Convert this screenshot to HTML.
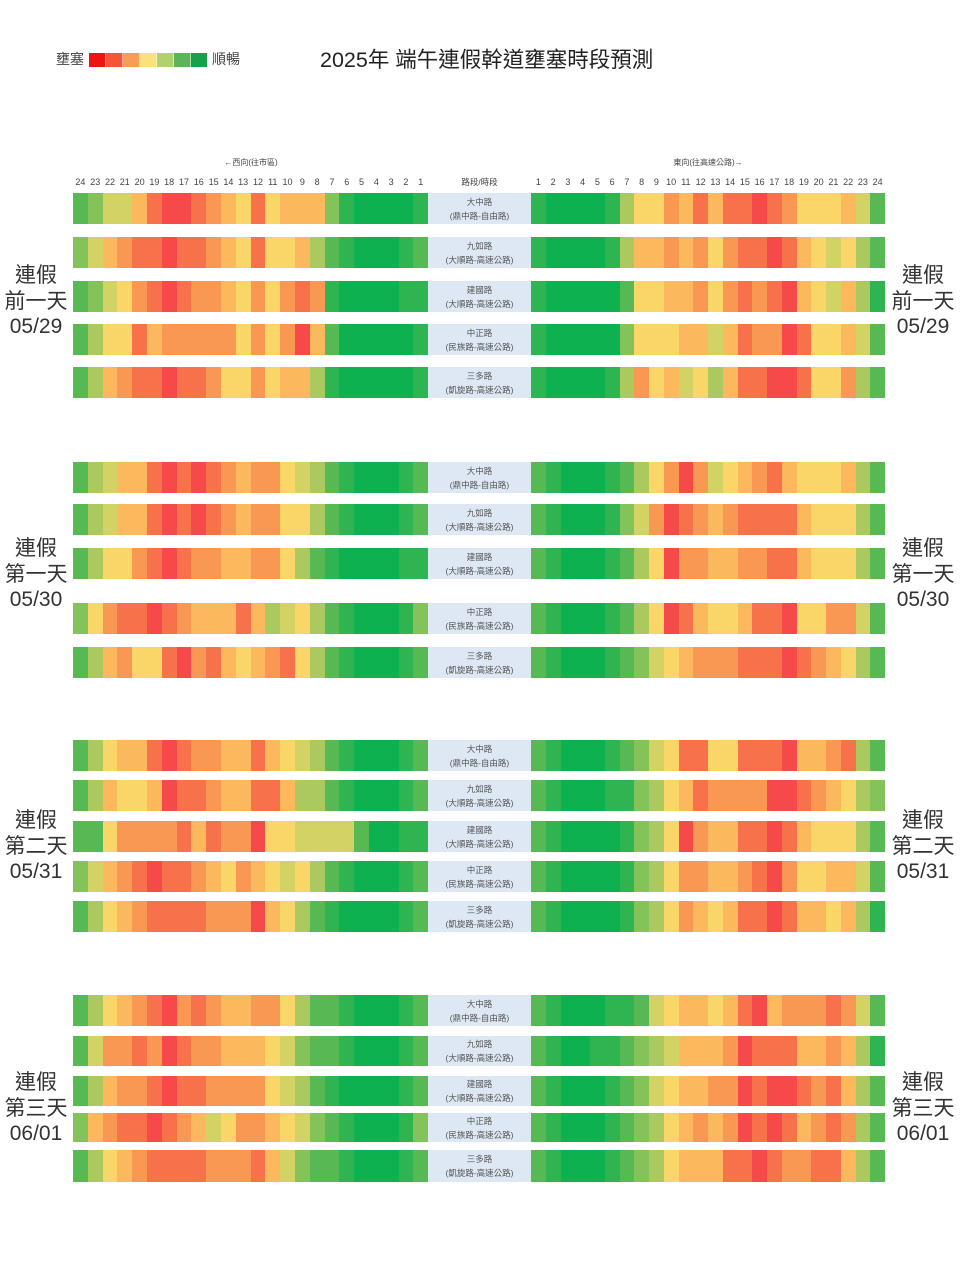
<!DOCTYPE html>
<html><head><meta charset="utf-8">
<style>
html,body{margin:0;padding:0}
body{width:960px;height:1280px;background:#fff;position:relative;overflow:hidden;font-family:"Liberation Sans","Noto Sans CJK TC",sans-serif;color:#333}
.a{position:absolute}
.r{position:absolute;display:flex;height:31px}
.L{left:73px;width:355px}
.R{left:531px;width:354px}
.r>*{flex:1 1 0;display:block}
c0{background:#0db14f}c1{background:#2fb452}c2{background:#57b954}c3{background:#84c25a}c4{background:#acc95f}c5{background:#d3d264}c6{background:#fad668}c7{background:#fbb85c}c8{background:#f99852}c9{background:#f7724b}ca{background:#f5494a}
.m{position:absolute;left:428px;width:103px;height:31px;background:#dde8f4;display:flex;flex-direction:column;justify-content:center;align-items:center;font-size:8.5px;line-height:14px;color:#555}
.h{position:absolute;top:176px;height:12px;display:flex;font-size:9px;line-height:12px;color:#444}
.h span{flex:1 1 0;text-align:center}
.side{position:absolute;width:72px;text-align:center;font-size:21px;line-height:25.5px;color:#333}
.leg{position:absolute;top:53px;height:14px;display:flex;left:89px;width:118px}
.leg span{flex:1 1 0;border-right:1px solid rgba(255,255,255,.5)}
</style></head><body>

<div class="a" style="left:56px;top:50px;font-size:14px;line-height:18px;color:#444">壅塞</div>
<div class="leg"><span style="background:#ef1414"></span><span style="background:#f4553b"></span><span style="background:#f89d56"></span><span style="background:#fbe07e"></span><span style="background:#b2d16c"></span><span style="background:#5db55a"></span><span style="background:#17a14d;border-right:0"></span></div>
<div class="a" style="left:212px;top:50px;font-size:14px;line-height:18px;color:#444">順暢</div>
<div class="a" style="left:320px;top:48px;font-size:21.5px;line-height:25px;color:#222;white-space:nowrap">2025年 端午連假幹道壅塞時段預測</div>

<div class="a" style="left:200px;top:157px;width:102px;text-align:center;font-size:8px;line-height:12px;color:#444">←西向(往市區)</div>
<div class="a" style="left:650px;top:157px;width:116px;text-align:center;font-size:8px;line-height:12px;color:#444">東向(往高速公路)→</div>

<div class="h L"><span>24</span><span>23</span><span>22</span><span>21</span><span>20</span><span>19</span><span>18</span><span>17</span><span>16</span><span>15</span><span>14</span><span>13</span><span>12</span><span>11</span><span>10</span><span>9</span><span>8</span><span>7</span><span>6</span><span>5</span><span>4</span><span>3</span><span>2</span><span>1</span></div>
<div class="a" style="left:428px;top:176px;width:103px;text-align:center;font-size:8.5px;line-height:12px;color:#444">路段/時段</div>
<div class="h R"><span>1</span><span>2</span><span>3</span><span>4</span><span>5</span><span>6</span><span>7</span><span>8</span><span>9</span><span>10</span><span>11</span><span>12</span><span>13</span><span>14</span><span>15</span><span>16</span><span>17</span><span>18</span><span>19</span><span>20</span><span>21</span><span>22</span><span>23</span><span>24</span></div>

<!-- side labels -->
<div class="side" style="left:0;top:263px">連假<br>前一天<br>05/29</div>
<div class="side" style="left:887px;top:263px">連假<br>前一天<br>05/29</div>
<div class="side" style="left:0;top:536px">連假<br>第一天<br>05/30</div>
<div class="side" style="left:887px;top:536px">連假<br>第一天<br>05/30</div>
<div class="side" style="left:0;top:808px">連假<br>第二天<br>05/31</div>
<div class="side" style="left:887px;top:808px">連假<br>第二天<br>05/31</div>
<div class="side" style="left:0;top:1070px">連假<br>第三天<br>06/01</div>
<div class="side" style="left:887px;top:1070px">連假<br>第三天<br>06/01</div>

<!-- GROUP 1 -->
<div class="r L" style="top:193px"><c2></c2><c3></c3><c5></c5><c5></c5><c7></c7><c9></c9><ca></ca><ca></ca><c9></c9><c8></c8><c7></c7><c6></c6><c9></c9><c6></c6><c7></c7><c7></c7><c7></c7><c3></c3><c1></c1><c0></c0><c0></c0><c0></c0><c0></c0><c1></c1></div>
<div class="m" style="top:193px"><div>大中路</div><div>(鼎中路-自由路)</div></div>
<div class="r R" style="top:193px"><c1></c1><c0></c0><c0></c0><c0></c0><c0></c0><c1></c1><c4></c4><c6></c6><c6></c6><c8></c8><c7></c7><c9></c9><c7></c7><c9></c9><c9></c9><ca></ca><c9></c9><c8></c8><c6></c6><c6></c6><c6></c6><c7></c7><c5></c5><c2></c2></div>

<div class="r L" style="top:237px"><c3></c3><c5></c5><c7></c7><c8></c8><c9></c9><c9></c9><ca></ca><c9></c9><c9></c9><c8></c8><c7></c7><c6></c6><c9></c9><c6></c6><c6></c6><c7></c7><c4></c4><c2></c2><c1></c1><c0></c0><c0></c0><c0></c0><c1></c1><c2></c2></div>
<div class="m" style="top:237px"><div>九如路</div><div>(大順路-高速公路)</div></div>
<div class="r R" style="top:237px"><c1></c1><c0></c0><c0></c0><c0></c0><c0></c0><c1></c1><c4></c4><c7></c7><c7></c7><c8></c8><c7></c7><c8></c8><c6></c6><c8></c8><c9></c9><c9></c9><ca></ca><c9></c9><c7></c7><c6></c6><c5></c5><c6></c6><c4></c4><c2></c2></div>

<div class="r L" style="top:281px"><c2></c2><c3></c3><c5></c5><c6></c6><c8></c8><c9></c9><ca></ca><c9></c9><c8></c8><c8></c8><c7></c7><c6></c6><c8></c8><c6></c6><c8></c8><c9></c9><c8></c8><c1></c1><c0></c0><c0></c0><c0></c0><c0></c0><c1></c1><c1></c1></div>
<div class="m" style="top:281px"><div>建國路</div><div>(大順路-高速公路)</div></div>
<div class="r R" style="top:281px"><c1></c1><c0></c0><c0></c0><c0></c0><c0></c0><c0></c0><c2></c2><c6></c6><c6></c6><c7></c7><c7></c7><c8></c8><c6></c6><c8></c8><c9></c9><c8></c8><c9></c9><ca></ca><c7></c7><c6></c6><c5></c5><c7></c7><c4></c4><c1></c1></div>

<div class="r L" style="top:324px"><c2></c2><c4></c4><c6></c6><c6></c6><c9></c9><c7></c7><c8></c8><c8></c8><c8></c8><c8></c8><c8></c8><c6></c6><c8></c8><c6></c6><c8></c8><ca></ca><c7></c7><c2></c2><c0></c0><c0></c0><c0></c0><c0></c0><c0></c0><c1></c1></div>
<div class="m" style="top:324px"><div>中正路</div><div>(民族路-高速公路)</div></div>
<div class="r R" style="top:324px"><c1></c1><c0></c0><c0></c0><c0></c0><c0></c0><c0></c0><c3></c3><c6></c6><c6></c6><c6></c6><c7></c7><c7></c7><c5></c5><c7></c7><c9></c9><c8></c8><c8></c8><ca></ca><c9></c9><c6></c6><c6></c6><c7></c7><c5></c5><c2></c2></div>

<div class="r L" style="top:367px"><c2></c2><c4></c4><c7></c7><c8></c8><c9></c9><c9></c9><ca></ca><c9></c9><c9></c9><c8></c8><c6></c6><c6></c6><c8></c8><c6></c6><c7></c7><c7></c7><c4></c4><c1></c1><c0></c0><c0></c0><c0></c0><c0></c0><c0></c0><c1></c1></div>
<div class="m" style="top:367px"><div>三多路</div><div>(凱旋路-高速公路)</div></div>
<div class="r R" style="top:367px"><c1></c1><c0></c0><c0></c0><c0></c0><c0></c0><c1></c1><c4></c4><c8></c8><c6></c6><c7></c7><c5></c5><c6></c6><c4></c4><c7></c7><c9></c9><c9></c9><ca></ca><ca></ca><c9></c9><c6></c6><c6></c6><c8></c8><c4></c4><c2></c2></div>

<!-- GROUP 2 -->
<div class="r L" style="top:462px"><c2></c2><c4></c4><c5></c5><c7></c7><c7></c7><c9></c9><ca></ca><c9></c9><ca></ca><c9></c9><c8></c8><c7></c7><c8></c8><c8></c8><c6></c6><c5></c5><c4></c4><c2></c2><c1></c1><c0></c0><c0></c0><c0></c0><c1></c1><c2></c2></div>
<div class="m" style="top:462px"><div>大中路</div><div>(鼎中路-自由路)</div></div>
<div class="r R" style="top:462px"><c2></c2><c1></c1><c0></c0><c0></c0><c0></c0><c1></c1><c2></c2><c4></c4><c6></c6><c8></c8><ca></ca><c8></c8><c5></c5><c6></c6><c7></c7><c8></c8><c9></c9><c7></c7><c6></c6><c6></c6><c6></c6><c7></c7><c4></c4><c2></c2></div>

<div class="r L" style="top:504px"><c2></c2><c4></c4><c5></c5><c7></c7><c7></c7><c9></c9><ca></ca><c9></c9><ca></ca><c9></c9><c8></c8><c7></c7><c8></c8><c8></c8><c6></c6><c6></c6><c4></c4><c2></c2><c1></c1><c0></c0><c0></c0><c0></c0><c1></c1><c2></c2></div>
<div class="m" style="top:504px"><div>九如路</div><div>(大順路-高速公路)</div></div>
<div class="r R" style="top:504px"><c2></c2><c1></c1><c0></c0><c0></c0><c0></c0><c1></c1><c3></c3><c5></c5><c8></c8><ca></ca><c9></c9><c8></c8><c7></c7><c8></c8><c9></c9><c9></c9><c9></c9><c9></c9><c7></c7><c6></c6><c6></c6><c6></c6><c4></c4><c2></c2></div>

<div class="r L" style="top:548px"><c2></c2><c4></c4><c6></c6><c6></c6><c8></c8><c9></c9><ca></ca><c9></c9><c8></c8><c8></c8><c7></c7><c7></c7><c8></c8><c8></c8><c6></c6><c4></c4><c2></c2><c1></c1><c0></c0><c0></c0><c0></c0><c0></c0><c1></c1><c1></c1></div>
<div class="m" style="top:548px"><div>建國路</div><div>(大順路-高速公路)</div></div>
<div class="r R" style="top:548px"><c2></c2><c1></c1><c0></c0><c0></c0><c0></c0><c1></c1><c2></c2><c4></c4><c6></c6><ca></ca><c8></c8><c8></c8><c7></c7><c7></c7><c8></c8><c8></c8><c9></c9><c9></c9><c7></c7><c6></c6><c6></c6><c6></c6><c4></c4><c2></c2></div>

<div class="r L" style="top:603px"><c3></c3><c6></c6><c8></c8><c9></c9><c9></c9><ca></ca><c9></c9><c8></c8><c7></c7><c7></c7><c7></c7><c9></c9><c7></c7><c4></c4><c5></c5><c6></c6><c4></c4><c2></c2><c1></c1><c0></c0><c0></c0><c0></c0><c1></c1><c3></c3></div>
<div class="m" style="top:603px"><div>中正路</div><div>(民族路-高速公路)</div></div>
<div class="r R" style="top:603px"><c2></c2><c1></c1><c0></c0><c0></c0><c0></c0><c1></c1><c2></c2><c4></c4><c6></c6><ca></ca><c9></c9><c7></c7><c6></c6><c6></c6><c7></c7><c9></c9><c9></c9><ca></ca><c6></c6><c6></c6><c8></c8><c8></c8><c5></c5><c2></c2></div>

<div class="r L" style="top:647px"><c2></c2><c4></c4><c7></c7><c8></c8><c6></c6><c6></c6><c9></c9><ca></ca><c8></c8><c9></c9><c7></c7><c6></c6><c7></c7><c8></c8><c9></c9><c6></c6><c4></c4><c2></c2><c1></c1><c0></c0><c0></c0><c0></c0><c1></c1><c2></c2></div>
<div class="m" style="top:647px"><div>三多路</div><div>(凱旋路-高速公路)</div></div>
<div class="r R" style="top:647px"><c2></c2><c1></c1><c0></c0><c0></c0><c0></c0><c1></c1><c2></c2><c3></c3><c5></c5><c6></c6><c7></c7><c8></c8><c8></c8><c8></c8><c9></c9><c9></c9><c9></c9><ca></ca><c9></c9><c8></c8><c7></c7><c6></c6><c4></c4><c2></c2></div>

<!-- GROUP 3 -->
<div class="r L" style="top:740px"><c2></c2><c4></c4><c6></c6><c7></c7><c7></c7><c9></c9><ca></ca><c9></c9><c8></c8><c8></c8><c7></c7><c7></c7><c9></c9><c7></c7><c6></c6><c5></c5><c4></c4><c2></c2><c1></c1><c0></c0><c0></c0><c0></c0><c1></c1><c2></c2></div>
<div class="m" style="top:740px"><div>大中路</div><div>(鼎中路-自由路)</div></div>
<div class="r R" style="top:740px"><c2></c2><c1></c1><c0></c0><c0></c0><c0></c0><c1></c1><c2></c2><c3></c3><c5></c5><c6></c6><c9></c9><c9></c9><c6></c6><c6></c6><c9></c9><c9></c9><c9></c9><ca></ca><c7></c7><c7></c7><c8></c8><c9></c9><c4></c4><c2></c2></div>

<div class="r L" style="top:780px"><c2></c2><c4></c4><c7></c7><c6></c6><c6></c6><c7></c7><ca></ca><c9></c9><c9></c9><c8></c8><c7></c7><c7></c7><c9></c9><c9></c9><c7></c7><c4></c4><c4></c4><c2></c2><c1></c1><c0></c0><c0></c0><c0></c0><c1></c1><c2></c2></div>
<div class="m" style="top:780px"><div>九如路</div><div>(大順路-高速公路)</div></div>
<div class="r R" style="top:780px"><c2></c2><c1></c1><c0></c0><c0></c0><c0></c0><c1></c1><c1></c1><c3></c3><c4></c4><c6></c6><c7></c7><c9></c9><c8></c8><c8></c8><c8></c8><c8></c8><ca></ca><ca></ca><c9></c9><c8></c8><c7></c7><c6></c6><c4></c4><c3></c3></div>

<div class="r L" style="top:821px"><c2></c2><c2></c2><c6></c6><c8></c8><c8></c8><c8></c8><c8></c8><c9></c9><c7></c7><c9></c9><c8></c8><c8></c8><ca></ca><c6></c6><c6></c6><c5></c5><c5></c5><c5></c5><c5></c5><c2></c2><c0></c0><c0></c0><c1></c1><c1></c1></div>
<div class="m" style="top:821px"><div>建國路</div><div>(大順路-高速公路)</div></div>
<div class="r R" style="top:821px"><c2></c2><c1></c1><c0></c0><c0></c0><c0></c0><c0></c0><c1></c1><c3></c3><c4></c4><c6></c6><ca></ca><c8></c8><c7></c7><c7></c7><c9></c9><c9></c9><ca></ca><c9></c9><c7></c7><c6></c6><c6></c6><c6></c6><c4></c4><c2></c2></div>

<div class="r L" style="top:861px"><c3></c3><c5></c5><c7></c7><c8></c8><c9></c9><ca></ca><c9></c9><c9></c9><c8></c8><c7></c7><c6></c6><c8></c8><c7></c7><c6></c6><c5></c5><c6></c6><c4></c4><c2></c2><c1></c1><c0></c0><c0></c0><c0></c0><c1></c1><c2></c2></div>
<div class="m" style="top:861px"><div>中正路</div><div>(民族路-高速公路)</div></div>
<div class="r R" style="top:861px"><c2></c2><c1></c1><c0></c0><c0></c0><c0></c0><c0></c0><c1></c1><c3></c3><c4></c4><c6></c6><c8></c8><c8></c8><c7></c7><c7></c7><c8></c8><c9></c9><ca></ca><c8></c8><c6></c6><c6></c6><c7></c7><c7></c7><c5></c5><c2></c2></div>

<div class="r L" style="top:901px"><c2></c2><c4></c4><c6></c6><c7></c7><c8></c8><c9></c9><c9></c9><c9></c9><c9></c9><c8></c8><c8></c8><c8></c8><ca></ca><c7></c7><c6></c6><c4></c4><c2></c2><c1></c1><c0></c0><c0></c0><c0></c0><c0></c0><c1></c1><c2></c2></div>
<div class="m" style="top:901px"><div>三多路</div><div>(凱旋路-高速公路)</div></div>
<div class="r R" style="top:901px"><c2></c2><c1></c1><c0></c0><c0></c0><c0></c0><c0></c0><c1></c1><c3></c3><c4></c4><c6></c6><c8></c8><c7></c7><c6></c6><c7></c7><c9></c9><c9></c9><ca></ca><c9></c9><c7></c7><c7></c7><c6></c6><c7></c7><c4></c4><c1></c1></div>

<!-- GROUP 4 -->
<div class="r L" style="top:995px"><c2></c2><c4></c4><c6></c6><c7></c7><c8></c8><c9></c9><ca></ca><c8></c8><c9></c9><c8></c8><c7></c7><c7></c7><c8></c8><c8></c8><c6></c6><c4></c4><c2></c2><c2></c2><c1></c1><c0></c0><c0></c0><c0></c0><c1></c1><c2></c2></div>
<div class="m" style="top:995px"><div>大中路</div><div>(鼎中路-自由路)</div></div>
<div class="r R" style="top:995px"><c2></c2><c1></c1><c0></c0><c0></c0><c0></c0><c1></c1><c1></c1><c2></c2><c5></c5><c6></c6><c7></c7><c7></c7><c6></c6><c7></c7><c9></c9><ca></ca><c7></c7><c8></c8><c8></c8><c8></c8><c9></c9><c8></c8><c5></c5><c2></c2></div>

<div class="r L" style="top:1036px;height:30px"><c2></c2><c5></c5><c8></c8><c8></c8><c9></c9><c8></c8><ca></ca><c9></c9><c8></c8><c8></c8><c7></c7><c7></c7><c7></c7><c6></c6><c5></c5><c3></c3><c2></c2><c2></c2><c1></c1><c0></c0><c0></c0><c0></c0><c1></c1><c2></c2></div>
<div class="m" style="top:1036px;height:30px"><div>九如路</div><div>(大順路-高速公路)</div></div>
<div class="r R" style="top:1036px;height:30px"><c2></c2><c1></c1><c0></c0><c0></c0><c1></c1><c1></c1><c2></c2><c3></c3><c4></c4><c5></c5><c7></c7><c7></c7><c7></c7><c8></c8><ca></ca><c9></c9><c9></c9><c9></c9><c7></c7><c7></c7><c8></c8><c7></c7><c4></c4><c1></c1></div>

<div class="r L" style="top:1076px;height:30px"><c2></c2><c4></c4><c7></c7><c8></c8><c8></c8><c9></c9><ca></ca><c9></c9><c9></c9><c8></c8><c8></c8><c8></c8><c8></c8><c6></c6><c5></c5><c4></c4><c2></c2><c1></c1><c0></c0><c0></c0><c0></c0><c0></c0><c1></c1><c2></c2></div>
<div class="m" style="top:1076px;height:30px"><div>建國路</div><div>(大順路-高速公路)</div></div>
<div class="r R" style="top:1076px;height:30px"><c2></c2><c1></c1><c0></c0><c0></c0><c0></c0><c1></c1><c2></c2><c3></c3><c5></c5><c6></c6><c7></c7><c7></c7><c8></c8><c8></c8><ca></ca><c9></c9><ca></ca><ca></ca><c9></c9><c8></c8><c9></c9><c7></c7><c4></c4><c2></c2></div>

<div class="r L" style="top:1113px;height:29px"><c3></c3><c7></c7><c8></c8><c9></c9><c9></c9><ca></ca><c9></c9><c8></c8><c7></c7><c5></c5><c6></c6><c8></c8><c8></c8><c7></c7><c6></c6><c5></c5><c3></c3><c2></c2><c1></c1><c0></c0><c0></c0><c0></c0><c1></c1><c3></c3></div>
<div class="m" style="top:1113px;height:29px"><div>中正路</div><div>(民族路-高速公路)</div></div>
<div class="r R" style="top:1113px;height:29px"><c2></c2><c1></c1><c0></c0><c0></c0><c0></c0><c1></c1><c2></c2><c3></c3><c4></c4><c6></c6><c7></c7><c8></c8><c7></c7><c8></c8><ca></ca><c9></c9><ca></ca><c9></c9><c7></c7><c8></c8><c9></c9><c8></c8><c4></c4><c2></c2></div>

<div class="r L" style="top:1150px;height:32px"><c2></c2><c4></c4><c6></c6><c7></c7><c8></c8><c9></c9><c9></c9><c9></c9><c9></c9><c8></c8><c8></c8><c8></c8><c9></c9><c7></c7><c5></c5><c3></c3><c2></c2><c2></c2><c1></c1><c0></c0><c0></c0><c0></c0><c1></c1><c2></c2></div>
<div class="m" style="top:1150px;height:32px"><div>三多路</div><div>(凱旋路-高速公路)</div></div>
<div class="r R" style="top:1150px;height:32px"><c2></c2><c1></c1><c0></c0><c0></c0><c0></c0><c1></c1><c2></c2><c3></c3><c4></c4><c6></c6><c7></c7><c7></c7><c7></c7><c9></c9><c9></c9><ca></ca><c9></c9><c8></c8><c8></c8><c9></c9><c9></c9><c7></c7><c4></c4><c2></c2></div>

</body></html>
